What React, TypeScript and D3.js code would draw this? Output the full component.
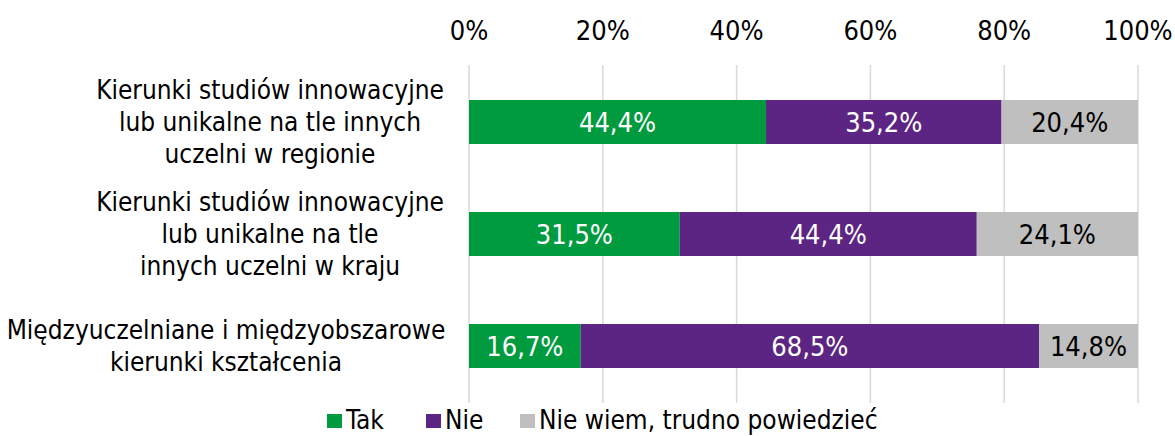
import React, { useRef, useEffect } from "react";
import * as d3 from "d3";

const categories: string[][] = [
  ["Kierunki studiów innowacyjne", "lub unikalne na tle innych", "uczelni w regionie"],
  ["Kierunki studiów innowacyjne", "lub unikalne na tle", "innych uczelni w kraju"],
  ["Międzyuczelniane i międzyobszarowe", "kierunki kształcenia"],
];
const seriesNames = ["Tak", "Nie", "Nie wiem, trudno powiedzieć"];
const tak = [44.4, 31.5, 16.7];
const nie = [35.2, 44.4, 68.5];
const nieWiem = [20.4, 24.1, 14.8];
const ticks = [0, 20, 40, 60, 80, 100];

const colors = ["#009B3E", "#5C2483", "#BFBFBF"];
const labelColors = ["#ffffff", "#ffffff", "#000000"];
const FONT = "Tahoma, 'DejaVu Sans Condensed', 'DejaVu Sans', sans-serif";

const App: React.FC = () => {
  const svgRef = useRef<SVGSVGElement>(null);

  useEffect(() => {
    const width = 1175;
    const height = 436;
    const svg = d3.select(svgRef.current);
    svg.selectAll("*").remove();

    const x = d3.scaleLinear().domain([0, 100]).range([469, 1138]);
    const y = d3
      .scaleBand<number>()
      .domain(d3.range(categories.length))
      .range([66, 402])
      .paddingInner(0.607)
      .paddingOuter(0.3035);

    // gridlines
    svg
      .append("g")
      .selectAll("line")
      .data(ticks)
      .enter()
      .append("line")
      .attr("x1", (d) => x(d))
      .attr("x2", (d) => x(d))
      .attr("y1", 65)
      .attr("y2", 403)
      .attr("stroke", "#d9d9d9")
      .attr("stroke-width", 1.5);

    // tick labels on top
    svg
      .append("g")
      .selectAll("text")
      .data(ticks)
      .enter()
      .append("text")
      .attr("x", (d) => x(d))
      .attr("y", 40)
      .attr("text-anchor", "middle")
      .style("font-family", FONT)
      .style("font-size", "27px")
      .attr("fill", "#000")
      .text((d) => `${d}%`);

    const rows = categories.map((_, i) => [tak[i], nie[i], nieWiem[i]]);

    rows.forEach((vals, i) => {
      let acc = 0;
      const g = svg.append("g");
      vals.forEach((v, j) => {
        const x0 = x(acc);
        const x1 = x(acc + v);
        acc += v;
        g.append("rect")
          .attr("x", x0)
          .attr("y", y(i)!)
          .attr("width", x1 - x0)
          .attr("height", y.bandwidth())
          .attr("fill", colors[j]);
        g.append("text")
          .attr("x", (x0 + x1) / 2)
          .attr("y", y(i)! + y.bandwidth() / 2)
          .attr("dy", "0.36em")
          .attr("text-anchor", "middle")
          .style("font-family", FONT)
          .style("font-size", "27px")
          .attr("fill", labelColors[j])
          .text(v.toFixed(1).replace(".", ",") + "%");
      });

      // category label
      const lines = categories[i];
      const lh = 32;
      const cy = y(i)! + y.bandwidth() / 2;
      const t = svg
        .append("text")
        .attr("text-anchor", "middle")
        .style("font-family", FONT)
        .style("font-size", "26px")
        .attr("fill", "#000");
      lines.forEach((ln, k) => {
        t.append("tspan")
          .attr("x", i === 2 ? 226 : 270)
          .attr("y", cy + (k - (lines.length - 1) / 2) * lh)
          .attr("dy", "0.36em")
          .text(ln);
      });
    });

    // legend
    const legendX = [327, 426, 520];
    const lg = svg.append("g");
    seriesNames.forEach((name, j) => {
      lg.append("rect")
        .attr("x", legendX[j])
        .attr("y", 414)
        .attr("width", 15)
        .attr("height", 14)
        .attr("fill", colors[j]);
      lg.append("text")
        .attr("x", legendX[j] + 19)
        .attr("y", 420)
        .attr("dy", "0.35em")
        .style("font-family", FONT)
        .style("font-size", "26px")
        .attr("fill", "#000")
        .text(name);
    });

    svg.attr("width", width).attr("height", height);
  }, []);

  return (
    <svg
      ref={svgRef}
      width={1175}
      height={436}
      style={{ position: "absolute", left: 0, top: 0, background: "#fff" }}
    ></svg>
  );
};

export default App;
